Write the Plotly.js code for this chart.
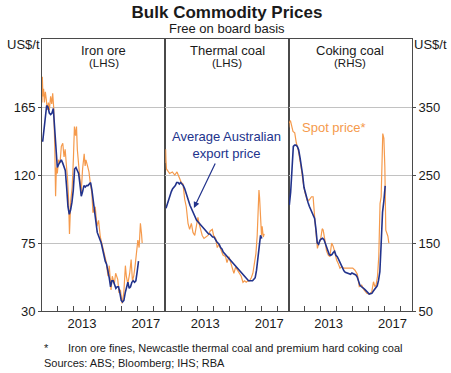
<!DOCTYPE html>
<html>
<head>
<meta charset="utf-8">
<script src="https://cdn.plot.ly/plotly-3.0.1.min.js"></script>
<style>html,body{margin:0;padding:0;background:#fff;}#chart{width:451px;height:373px;}</style>
</head>
<body>
<div id="chart"></div>
<script>
// ---------- DATA ----------
// Monthly average Australian export prices, Jan 2011 – Jan 2017 (US$/t)
const ironAvg = [142,150,158,166,165,161,160,161,164,152,138,125,
                 127,129,130,128,126,123,112,99,94,97,102,110,
                 124,125,123,121,114,106,109,113,112,113,113,114,
                 115,110,104,97,89,82,80,78,75,71,66,63,
                 61,57,52,46,50,50,47,45,46,46,42,37,
                 36,37,42,46,49,45,46,49,50,49,50,56,
                 63];
const thermalAvg = [98,101,103,106,109,111,112,113,115,115,114,115,
                    114,113,111,108,105,102,100,98,96,93,91,90,
                    89,88,87,86,85,84,83,82,81,81,80,79,
                    79,77,76,75,74,72,71,69,68,67,66,65,
                    64,63,62,61,60,59,58,57,56,55,54,53,
                    52,51,50,50,50,50,51,52,57,66,75,80,
                    78];
const cokingAvg = [206,225,258,292,294,294,292,287,276,265,250,232,
                   224,214,210,204,200,196,192,186,170,150,148,154,
                   156,157,155,150,143,138,133,132,133,136,138,132,
                   130,126,122,116,112,109,107,106,105,104,104,106,
                   105,104,103,100,94,88,86,85,83,81,78,77,
                   75,75,76,79,82,85,87,95,108,150,195,212,
                   234];
const avgStartYear = 2011;

// Spot prices (decimal year, US$/t)
const ironSpotT = [2011.00,2011.02,2011.06,2011.10,2011.15,2011.21,2011.27,2011.33,2011.40,2011.46,2011.54,2011.61,2011.67,2011.73,
  2011.80,2011.85,2011.90,2011.96,2012.03,2012.13,2012.21,2012.30,2012.38,2012.45,2012.53,2012.59,2012.66,2012.72,2012.80,2012.89,
  2012.97,2013.03,2013.10,2013.16,2013.21,2013.29,2013.39,2013.45,2013.54,2013.64,2013.70,2013.75,2013.85,2013.94,2014.02,2014.12,
  2014.19,2014.33,2014.44,2014.54,2014.65,2014.79,2014.92,2015.03,2015.13,2015.21,2015.32,2015.40,2015.53,2015.61,2015.74,2015.82,
  2015.91,2016.01,2016.12,2016.22,2016.28,2016.37,2016.49,2016.58,2016.66,2016.74,2016.83,2016.91,2017.00,2017.08,2017.16,2017.23,2017.27];
const ironSpotV = [168,185,172,177,168,175,170,163,168,163,172,167,174,165,
  139,106,125,121,130,128,139,141,132,137,126,119,105,81,103,112,
  132,152,146,152,137,128,117,108,124,134,126,130,126,122,115,108,
  95,99,86,90,79,73,66,62,53,60,44,53,48,55,51,42,
  44,35,42,60,53,48,55,64,50,53,60,68,77,72,88,81,75];

const thermalSpotT = [2011.00,2011.02,2011.04,2011.07,2011.27,2011.44,2011.59,2011.73,2011.90,2012.00,2012.11,2012.21,2012.31,2012.42,
  2012.52,2012.63,2012.73,2012.84,2012.94,2013.04,2013.11,2013.21,2013.31,2013.42,2013.52,2013.67,2013.81,2013.94,2014.02,2014.15,
  2014.25,2014.36,2014.50,2014.61,2014.77,2014.86,2014.98,2015.09,2015.19,2015.29,2015.40,2015.50,2015.61,2015.75,2015.86,2015.96,
  2016.06,2016.17,2016.27,2016.38,2016.48,2016.59,2016.67,2016.75,2016.81,2016.86,2016.90,2016.94,2016.98,2017.02,2017.06,2017.13,2017.19];
const thermalSpotV = [128,137,130,124,121,122,120,122,118,115,114,104,99,88,
  84,88,82,80,86,92,88,84,80,78,79,80,83,84,80,78,
  72,74,70,67,66,62,66,62,60,55,59,57,55,53,49,50,
  49,50,50,52,55,62,68,80,95,110,105,92,84,80,86,79,81];

const cokingSpotT = [2011.00,2011.02,2011.11,2011.17,2011.27,2011.38,2011.48,2011.59,2011.69,2011.80,2011.90,2012.01,2012.16,2012.28,
  2012.43,2012.53,2012.64,2012.74,2012.80,2012.89,2012.99,2013.10,2013.16,2013.27,2013.37,2013.48,2013.58,2013.69,2013.79,2013.90,
  2014.00,2014.10,2014.21,2014.31,2014.46,2014.63,2014.84,2015.01,2015.15,2015.30,2015.42,2015.57,2015.72,2015.89,2016.05,2016.20,
  2016.31,2016.39,2016.47,2016.56,2016.64,2016.72,2016.79,2016.85,2016.89,2016.96,2017.02,2017.08,2017.14,2017.21,2017.27];
const cokingSpotV = [320,326,330,323,314,312,297,288,275,258,240,225,213,213,
  218,218,184,154,142,150,154,171,169,154,138,132,130,150,145,135,
  125,120,113,115,113,113,113,113,110,104,86,88,81,76,75,78,
  93,86,88,101,130,208,218,262,311,304,262,169,164,160,150];

// Axis ticks
const lhsTicks = [30,75,120,165];
const rhsTicks = [50,150,250,350];
const yearTicks = [2012,2013,2014,2015,2016,2017,2018];
const yearLabelPos = [2013.5,2017.5];
const yearLabels = ['2013','2017'];
const panelTitles = ['Iron ore','Thermal coal','Coking coal'];
const panelSides = ['(LHS)','(LHS)','(RHS)'];

// ---------- STYLE ----------
const FONT = 'Arial, "Liberation Sans", sans-serif';
const ORANGE = '#F59A4C';
const BLUE = '#22338C';
const GRID = '#C2C2C2';
const AXIS = '#4A4A4A';
const TXT = '#1a1a1a';

function monthX(arr){ return arr.map((_, i) => avgStartYear + (i + 0.5) / 12); }

function spot(x, y, xa, ya){ return {x:x, y:y, xaxis:xa, yaxis:ya, mode:'lines', line:{color:ORANGE, width:1.2}, hoverinfo:'skip'}; }
function avg(y, xa, ya){ return {x:monthX(y), y:y, xaxis:xa, yaxis:ya, mode:'lines', line:{color:BLUE, width:1.6}, hoverinfo:'skip'}; }

const traces = [
  spot(ironSpotT, ironSpotV, 'x', 'y'), avg(ironAvg, 'x', 'y'),
  spot(thermalSpotT, thermalSpotV, 'x2', 'y2'), avg(thermalAvg, 'x2', 'y2'),
  spot(cokingSpotT, cokingSpotV, 'x3', 'y3'), avg(cokingAvg, 'x3', 'y3')
];

function xAx(dom){
  return {domain:dom, range:[2011, 2018.72], tickmode:'array', tickvals:yearLabelPos, ticktext:yearLabels,
    ticks:'', showgrid:false, zeroline:false, showline:true, mirror:true, linecolor:AXIS, linewidth:1,
    tickfont:{family:FONT, size:13, color:TXT},
    minor:{tickmode:'array', tickvals:yearTicks, ticks:'inside', ticklen:5, tickcolor:AXIS, tickwidth:1, showgrid:false}};
}
function yAx(extra){
  return Object.assign({showgrid:true, gridcolor:GRID, gridwidth:1, zeroline:false, showline:true, mirror:true,
    linecolor:AXIS, linewidth:1, tickfont:{family:FONT, size:13, color:TXT}, domain:[0,1]}, extra);
}

const third = 1/3;
const annotations = [
  {text:'Free on board basis', xref:'paper', yref:'paper', x:0.5, y:1.0404, xanchor:'center', yanchor:'middle', showarrow:false, font:{family:FONT, size:13, color:TXT}},
  {text:'US$/t', xref:'paper', yref:'paper', x:-0.0487, y:0.978, xanchor:'center', yanchor:'middle', showarrow:false, font:{family:FONT, size:13, color:TXT}},
  {text:'US$/t', xref:'paper', yref:'paper', x:1.0500, y:0.978, xanchor:'center', yanchor:'middle', showarrow:false, font:{family:FONT, size:13, color:TXT}},
  {text:'Average Australian<br>export price', xref:'paper', yref:'paper', x:0.4986, y:0.612, xanchor:'center', yanchor:'middle', showarrow:false, font:{family:FONT, size:13, color:BLUE}},
  {text:'Spot price*', xref:'paper', yref:'paper', x:0.789, y:0.675, xanchor:'center', yanchor:'middle', showarrow:false, font:{family:FONT, size:13, color:ORANGE}},
  {text:'', xref:'x2', yref:'y2', x:2012.79, y:98.2, ax:22, ay:-46, showarrow:true, arrowhead:2, arrowsize:1, arrowwidth:1.2, arrowcolor:BLUE},
  {text:'*', xref:'paper', yref:'paper', x:0, y:-0.136, xanchor:'left', yanchor:'middle', showarrow:false, font:{family:FONT, size:11, color:TXT}},
  {text:'Iron ore fines, Newcastle thermal coal and premium hard coking coal', xref:'paper', yref:'paper', x:0.064, y:-0.136, xanchor:'left', yanchor:'middle', showarrow:false, font:{family:FONT, size:11, color:TXT}},
  {text:'Sources: ABS; Bloomberg; IHS; RBA', xref:'paper', yref:'paper', x:0, y:-0.192, xanchor:'left', yanchor:'middle', showarrow:false, font:{family:FONT, size:11, color:TXT}}
];
panelTitles.forEach((t, i) => {
  annotations.push({text:t, xref:'paper', yref:'paper', x:(i + 0.5) * third, y:0.957, xanchor:'center', yanchor:'middle', showarrow:false, font:{family:FONT, size:13, color:TXT}});
  annotations.push({text:panelSides[i], xref:'paper', yref:'paper', x:(i + 0.5) * third, y:0.9107, xanchor:'center', yanchor:'middle', showarrow:false, font:{family:FONT, size:11.5, color:TXT}});
});

const layout = {
  width:451, height:373,
  margin:{l:42, r:39, t:39, b:62},
  paper_bgcolor:'#fff', plot_bgcolor:'#fff',
  showlegend:false,
  font:{family:FONT, color:TXT},
  title:{text:'<b>Bulk Commodity Prices</b>', font:{family:FONT, size:17, color:TXT}, xref:'paper', x:0.5, xanchor:'center', yref:'container', y:1 - 12/373, yanchor:'middle'},
  xaxis:xAx([0, third]),
  xaxis2:xAx([third, 2*third]),
  xaxis3:xAx([2*third, 1]),
  yaxis:yAx({anchor:'x', range:[30,210], tickmode:'array', tickvals:lhsTicks, ticks:'outside', ticklen:3, tickcolor:AXIS, side:'left'}),
  yaxis2:yAx({anchor:'x2', range:[30,210], tickmode:'array', tickvals:lhsTicks, ticks:'', showticklabels:false}),
  yaxis3:yAx({anchor:'x3', range:[50,450], tickmode:'array', tickvals:rhsTicks, ticks:'outside', ticklen:3, tickcolor:AXIS, side:'right'}),
  annotations:annotations
};

Plotly.newPlot('chart', traces, layout, {displayModeBar:false, staticPlot:true});
</script>
</body>
</html>
